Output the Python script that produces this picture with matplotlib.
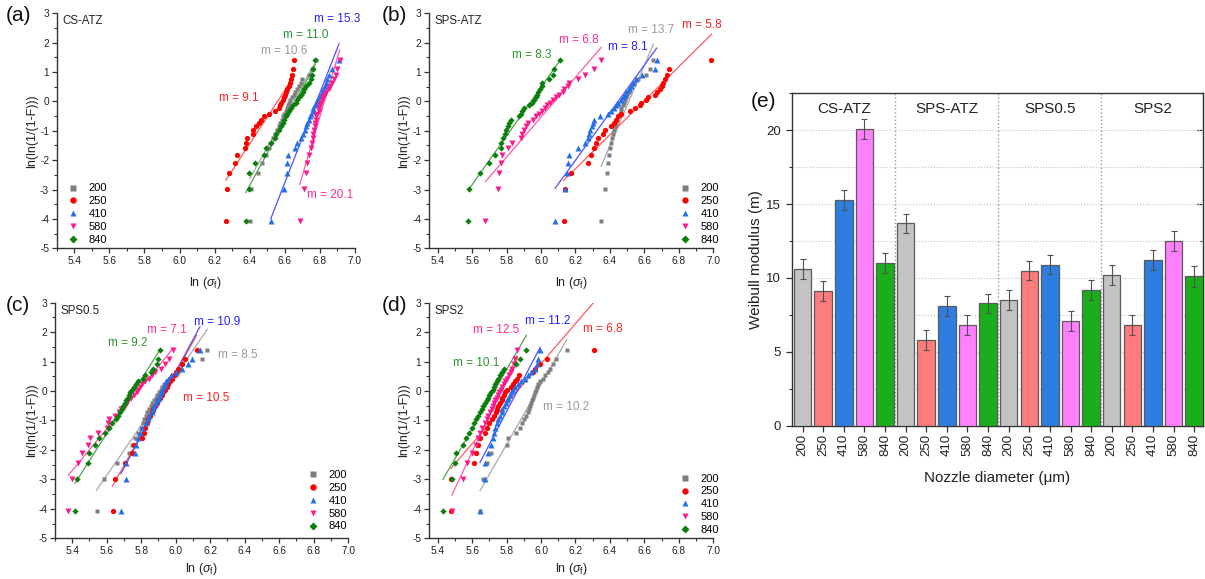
import numpy as np
import matplotlib
matplotlib.use('Agg')
import matplotlib.pyplot as plt
from matplotlib.ticker import MultipleLocator

plt.rcParams['font.family'] = ['Liberation Sans', 'DejaVu Sans']
plt.rcParams['mathtext.fontset'] = 'custom'
plt.rcParams['mathtext.rm'] = 'Liberation Sans'
plt.rcParams['mathtext.it'] = 'Liberation Sans:italic'
plt.rcParams['axes.unicode_minus'] = False

# ---------------- data ----------------
nozzles = ['200', '250', '410', '580', '840']
samples = ['CS-ATZ', 'SPS-ATZ', 'SPS0.5', 'SPS2']

# ln(ln(1/(1-F))) for the 30 ranked specimens
y_rank = [-4.086, -2.970, -2.442, -2.087, -1.817, -1.597, -1.410, -1.246, -1.099, -0.966,
          -0.842, -0.727, -0.618, -0.514, -0.415, -0.319, -0.225, -0.133, -0.042, 0.049,
          0.140, 0.232, 0.327, 0.425, 0.529, 0.640, 0.765, 0.910, 1.097, 1.410]

# ln(sigma_f) values, panel (a) CS-ATZ
a_200 = [6.400, 6.410, 6.445, 6.470, 6.490, 6.508, 6.518, 6.530, 6.545, 6.555,
         6.565, 6.575, 6.582, 6.590, 6.598, 6.605, 6.612, 6.618, 6.625, 6.632,
         6.640, 6.650, 6.660, 6.670, 6.680, 6.690, 6.700, 6.740, 6.755, 6.775]
a_250 = [6.264, 6.270, 6.283, 6.317, 6.325, 6.374, 6.378, 6.385, 6.416, 6.421,
         6.435, 6.450, 6.467, 6.482, 6.511, 6.545, 6.568, 6.575, 6.581, 6.590,
         6.596, 6.602, 6.609, 6.615, 6.621, 6.628, 6.634, 6.640, 6.645, 6.651]
a_410 = [6.520, 6.596, 6.611, 6.615, 6.617, 6.659, 6.672, 6.691, 6.704, 6.716,
         6.723, 6.729, 6.739, 6.744, 6.752, 6.758, 6.763, 6.773, 6.780, 6.786,
         6.795, 6.805, 6.811, 6.818, 6.828, 6.833, 6.843, 6.852, 6.871, 6.909]
a_580 = [6.685, 6.710, 6.720, 6.729, 6.739, 6.748, 6.754, 6.758, 6.761, 6.767,
         6.771, 6.773, 6.776, 6.780, 6.786, 6.792, 6.795, 6.801, 6.809, 6.814,
         6.820, 6.830, 6.837, 6.849, 6.856, 6.871, 6.881, 6.894, 6.900, 6.913]
a_840 = [6.378, 6.393, 6.397, 6.431, 6.482, 6.492, 6.520, 6.545, 6.549, 6.564,
         6.577, 6.587, 6.596, 6.606, 6.615, 6.625, 6.634, 6.647, 6.663, 6.672,
         6.682, 6.691, 6.701, 6.710, 6.720, 6.735, 6.748, 6.754, 6.761, 6.773]

# panel (b) SPS-ATZ
b_200 = [6.349, 6.373, 6.380, 6.388, 6.392, 6.398, 6.404, 6.412, 6.418, 6.423,
         6.429, 6.437, 6.443, 6.451, 6.456, 6.462, 6.466, 6.474, 6.480, 6.486,
         6.492, 6.499, 6.509, 6.517, 6.525, 6.540, 6.560, 6.607, 6.632, 6.652]
b_250 = [6.131, 6.141, 6.174, 6.271, 6.291, 6.306, 6.320, 6.330, 6.359, 6.369,
         6.404, 6.423, 6.437, 6.447, 6.466, 6.515, 6.544, 6.573, 6.583, 6.612,
         6.622, 6.661, 6.671, 6.690, 6.700, 6.710, 6.720, 6.729, 6.743, 6.989]
b_410 = [6.082, 6.141, 6.150, 6.158, 6.164, 6.217, 6.256, 6.271, 6.281, 6.287,
         6.295, 6.302, 6.310, 6.340, 6.388, 6.408, 6.423, 6.435, 6.447, 6.462,
         6.476, 6.486, 6.496, 6.509, 6.521, 6.535, 6.554, 6.587, 6.661, 6.671]
b_580 = [5.677, 5.751, 5.759, 5.765, 5.774, 5.809, 5.829, 5.882, 5.891, 5.903,
         5.911, 5.926, 5.954, 5.969, 5.989, 6.008, 6.024, 6.032, 6.051, 6.067,
         6.086, 6.102, 6.125, 6.135, 6.154, 6.164, 6.213, 6.258, 6.310, 6.349]
b_840 = [5.579, 5.583, 5.644, 5.696, 5.735, 5.765, 5.770, 5.778, 5.790, 5.798,
         5.809, 5.817, 5.823, 5.872, 5.882, 5.891, 5.901, 5.930, 5.946, 5.960,
         5.969, 5.979, 5.985, 5.993, 6.004, 6.008, 6.047, 6.067, 6.076, 6.110]

# panel (c) SPS0.5
c_200 = [5.541, 5.586, 5.657, 5.729, 5.748, 5.763, 5.783, 5.798, 5.808, 5.817,
         5.825, 5.835, 5.845, 5.854, 5.864, 5.874, 5.883, 5.893, 5.903, 5.912,
         5.922, 5.934, 5.947, 5.972, 5.999, 6.015, 6.024, 6.034, 6.154, 6.183]
c_250 = [5.634, 5.647, 5.705, 5.748, 5.760, 5.802, 5.814, 5.821, 5.831, 5.841,
         5.850, 5.860, 5.870, 5.879, 5.889, 5.899, 5.908, 5.918, 5.928, 5.937,
         5.947, 5.957, 5.966, 5.976, 5.990, 6.001, 6.015, 6.034, 6.053, 6.121]
c_410 = [5.682, 5.709, 5.713, 5.763, 5.771, 5.779, 5.792, 5.806, 5.825, 5.837,
         5.848, 5.860, 5.868, 5.877, 5.885, 5.893, 5.901, 5.908, 5.916, 5.922,
         5.930, 5.937, 5.945, 5.957, 5.972, 5.999, 6.034, 6.073, 6.092, 6.140]
c_580 = [5.377, 5.400, 5.435, 5.454, 5.489, 5.503, 5.551, 5.599, 5.605, 5.613,
         5.647, 5.671, 5.682, 5.705, 5.715, 5.725, 5.740, 5.760, 5.773, 5.783,
         5.792, 5.802, 5.821, 5.845, 5.864, 5.879, 5.914, 5.937, 5.960, 5.986]
c_840 = [5.416, 5.429, 5.493, 5.499, 5.535, 5.555, 5.590, 5.613, 5.628, 5.651,
         5.667, 5.676, 5.686, 5.696, 5.705, 5.713, 5.721, 5.729, 5.736, 5.748,
         5.760, 5.769, 5.783, 5.812, 5.821, 5.856, 5.870, 5.889, 5.899, 5.908]

# panel (d) SPS2
d_200 = [5.646, 5.665, 5.684, 5.711, 5.803, 5.811, 5.857, 5.876, 5.892, 5.899,
         5.911, 5.922, 5.930, 5.938, 5.944, 5.949, 5.953, 5.957, 5.963, 5.969,
         5.976, 5.984, 5.995, 6.011, 6.026, 6.040, 6.053, 6.068, 6.088, 6.149]
d_250 = [5.477, 5.478, 5.611, 5.623, 5.636, 5.646, 5.675, 5.688, 5.700, 5.713,
         5.727, 5.738, 5.746, 5.753, 5.761, 5.771, 5.776, 5.784, 5.792, 5.800,
         5.823, 5.838, 5.849, 5.861, 5.873, 5.953, 5.963, 5.996, 6.034, 6.309]
d_410 = [5.646, 5.675, 5.676, 5.694, 5.707, 5.719, 5.727, 5.734, 5.742, 5.752,
         5.761, 5.771, 5.776, 5.784, 5.796, 5.803, 5.811, 5.819, 5.828, 5.838,
         5.849, 5.867, 5.886, 5.905, 5.924, 5.944, 5.963, 5.976, 5.984, 5.995]
d_580 = [5.483, 5.550, 5.573, 5.598, 5.623, 5.636, 5.646, 5.657, 5.675, 5.684,
         5.694, 5.703, 5.713, 5.719, 5.727, 5.734, 5.742, 5.750, 5.757, 5.765,
         5.776, 5.784, 5.792, 5.800, 5.815, 5.826, 5.834, 5.842, 5.849, 5.861]
d_840 = [5.431, 5.483, 5.502, 5.506, 5.546, 5.565, 5.584, 5.598, 5.611, 5.623,
         5.636, 5.646, 5.655, 5.665, 5.675, 5.684, 5.694, 5.700, 5.707, 5.719,
         5.727, 5.734, 5.742, 5.752, 5.761, 5.773, 5.784, 5.857, 5.876, 5.915]

# Weibull moduli (per nozzle) and their errors
m_cs = [10.6, 9.1, 15.3, 20.1, 11.0]
m_spsatz = [13.7, 5.8, 8.1, 6.8, 8.3]
m_sps05 = [8.5, 10.5, 10.9, 7.1, 9.2]
m_sps2 = [10.2, 6.8, 11.2, 12.5, 10.1]
err_cs = [0.65, 0.68, 0.68, 0.68, 0.66]
err_spsatz = [0.66, 0.66, 0.68, 0.68, 0.64]
err_sps05 = [0.66, 0.66, 0.66, 0.66, 0.66]
err_sps2 = [0.68, 0.66, 0.68, 0.68, 0.68]

# ---------------- styles ----------------
marker_styles = ['s', 'o', '^', 'v', 'D']
marker_sizes = [3.2, 3.8, 4.0, 4.0, 3.2]
marker_colors = ['#7F7F7F', '#FF0000', '#2470E8', '#FF1A8C', '#0B7F0B']
line_colors = ['#A9A9A9', '#FF5A5A', '#5050FF', '#FF5AAA', '#4CA64C']
label_colors = ['#9A9A9A', '#FF2020', '#2020FF', '#FF2A90', '#2A962A']
bar_colors = ['#C3C3C3', '#FF7C7C', '#2E7DE0', '#FF80FF', '#1BAE1B']

fig = plt.figure(figsize=(12.05, 5.79), dpi=100)


def weibull_panel(rect, xlim, series, slopes, name, label_pos, leg_anchor,
                  letter, letter_xy, ylab_x, xlab_y):
    ax = fig.add_axes(rect)
    ys = np.array(y_rank)
    handles = []
    for i in range(5):
        xs = np.array(series[i])
        h, = ax.plot(xs, ys, ls='none', marker=marker_styles[i], ms=marker_sizes[i],
                     color=marker_colors[i], mec='none', zorder=3)
        handles.append(h)
        xm, ym = xs.mean(), ys.mean()
        xl = np.array([xs.min(), xs.max()])
        ax.plot(xl, ym + slopes[i] * (xl - xm), color=line_colors[i], lw=0.9, zorder=2)
        ax.text(label_pos[i][0], label_pos[i][1], f'm = {slopes[i]:.1f}',
                color=label_colors[i], fontsize=8.5, ha='left', va='center')
    ax.set_xlim(*xlim)
    ax.set_ylim(-5, 3)
    ax.xaxis.set_minor_locator(MultipleLocator(0.1))
    ax.yaxis.set_major_locator(MultipleLocator(1))
    ax.yaxis.set_minor_locator(MultipleLocator(0.5))
    ticks = np.arange(5.4, 7.01, 0.2)
    ax.set_xticks(ticks)
    ax.set_xticklabels([f'{v:.1f}' for v in ticks])
    for s in ['top', 'right']:
        ax.spines[s].set_visible(False)
    for s in ['left', 'bottom']:
        ax.spines[s].set_color('#333333')
        ax.spines[s].set_linewidth(1.0)
    ax.tick_params(which='major', direction='out', length=3.5, width=0.9,
                   labelsize=7.3, colors='#333333', labelcolor='#222222', pad=2)
    ax.tick_params(which='minor', direction='out', length=2, width=0.8, colors='#333333')
    ax.set_ylabel('ln(ln(1/(1-F)))', fontsize=9, color='#222222')
    ax.yaxis.set_label_coords(ylab_x, 0.5)
    ax.set_xlabel(r'ln ($\sigma_{\mathrm{f}}$)', fontsize=9, color='#222222')
    ax.xaxis.set_label_coords(0.5, xlab_y)
    ax.text(0.02, 0.965, name, transform=ax.transAxes, fontsize=8.3,
            ha='left', va='center', color='#222222')
    ax.legend(handles, nozzles, loc='lower left', bbox_to_anchor=leg_anchor,
              frameon=False, fontsize=8, handlelength=1.0, handletextpad=0.9,
              labelspacing=0.25, borderpad=0, borderaxespad=0, markerscale=1.2)
    fig.text(letter_xy[0], letter_xy[1], letter, fontsize=15, ha='left', va='center',
             color='#111111')
    return ax


weibull_panel([0.0471, 0.5712, 0.2475, 0.4059], (5.3, 7.0),
              [a_200, a_250, a_410, a_580, a_840], m_cs, samples[0],
              [(6.463, 1.73), (6.226, 0.11), (6.767, 2.80), (6.729, -3.19), (6.587, 2.26)],
              (0.035, 0.016), '(a)', (0.005, 0.974), -0.063, -0.115)

weibull_panel([0.356, 0.5712, 0.236, 0.4059], (5.35, 7.0),
              [b_200, b_250, b_410, b_580, b_840], m_spsatz, samples[1],
              [(6.505, 2.43), (6.817, 2.60), (6.388, 1.86), (6.106, 2.09), (5.833, 1.58)],
              (0.88, 0.016), '(b)', (0.317, 0.974), -0.067, -0.115)

weibull_panel([0.0456, 0.0703, 0.2434, 0.4069], (5.3, 7.0),
              [c_200, c_250, c_410, c_580, c_840], m_sps05, samples[2],
              [(6.246, 1.22), (6.04, -0.25), (6.107, 2.36), (5.831, 2.07), (5.609, 1.62)],
              (0.862, 0.029), '(c)', (0.005, 0.473), -0.058, -0.095)

weibull_panel([0.356, 0.0703, 0.236, 0.4069], (5.35, 7.0),
              [d_200, d_250, d_410, d_580, d_840], m_sps2, samples[3],
              [(6.011, -0.53), (6.241, 2.10), (5.905, 2.39), (5.607, 2.07), (5.492, 0.96)],
              (0.88, 0.015), '(d)', (0.317, 0.473), -0.067, -0.095)

# ---------------- panel (e) ----------------
axe = fig.add_axes([0.657, 0.2648, 0.3417, 0.5741])
vals = m_cs + m_spsatz + m_sps05 + m_sps2
errs = err_cs + err_spsatz + err_sps05 + err_sps2
xpos = np.arange(len(vals))
axe.bar(xpos, vals, width=0.85, color=bar_colors * 4, edgecolor='#5A5A5A',
        linewidth=0.9, zorder=3,
        yerr=errs, capsize=2.5,
        error_kw=dict(ecolor='#505050', elinewidth=0.8, capthick=0.8, zorder=4))
axe.set_xlim(-0.53, 19.45)
axe.set_ylim(0, 22.5)
axe.set_xticks(xpos)
axe.set_xticklabels(nozzles * 4, rotation=90, fontsize=9.5)
axe.yaxis.set_major_locator(MultipleLocator(5))
axe.yaxis.set_minor_locator(MultipleLocator(2.5))
axe.yaxis.grid(True, which='both', linestyle=':', color='#C4C4C4', lw=0.8, zorder=0)
axe.set_axisbelow(True)
for xs_ in [4.5, 9.5, 14.5]:
    axe.axvline(xs_, color='#9A9A9A', ls=':', lw=1.0, zorder=1)
for gi, name in enumerate(samples):
    axe.text(gi * 5 + 2, 21.45, name, ha='center', va='center', fontsize=11,
             color='#222222')
for s in axe.spines.values():
    s.set_color('#333333')
    s.set_linewidth(1.0)
axe.tick_params(axis='y', which='major', direction='out', length=4, width=0.9,
                labelsize=9.5, colors='#333333', labelcolor='#222222')
axe.tick_params(axis='y', which='minor', direction='out', length=2.5, width=0.8,
                colors='#333333')
axe.tick_params(axis='x', direction='out', length=4, width=0.9, colors='#333333',
                labelcolor='#222222', pad=2)
sec = axe.secondary_yaxis('right')
sec.yaxis.set_major_locator(MultipleLocator(5))
sec.yaxis.set_minor_locator(MultipleLocator(2.5))
sec.tick_params(which='major', direction='in', length=4, width=0.9, labelright=False,
                colors='#333333')
sec.tick_params(which='minor', direction='in', length=2.5, width=0.8, colors='#333333')
sec.spines['right'].set_color('#333333')
axe.set_ylabel('Weibull modulus (m)', fontsize=11, color='#222222')
axe.yaxis.set_label_coords(-0.07, 0.5)
axe.set_xlabel('Nozzle diameter (\u03bcm)', fontsize=11, color='#222222')
axe.xaxis.set_label_coords(0.5, -0.135)
fig.text(0.623, 0.824, '(e)', fontsize=15, ha='left', va='center', color='#111111')

fig.savefig('out.png', dpi=100)
